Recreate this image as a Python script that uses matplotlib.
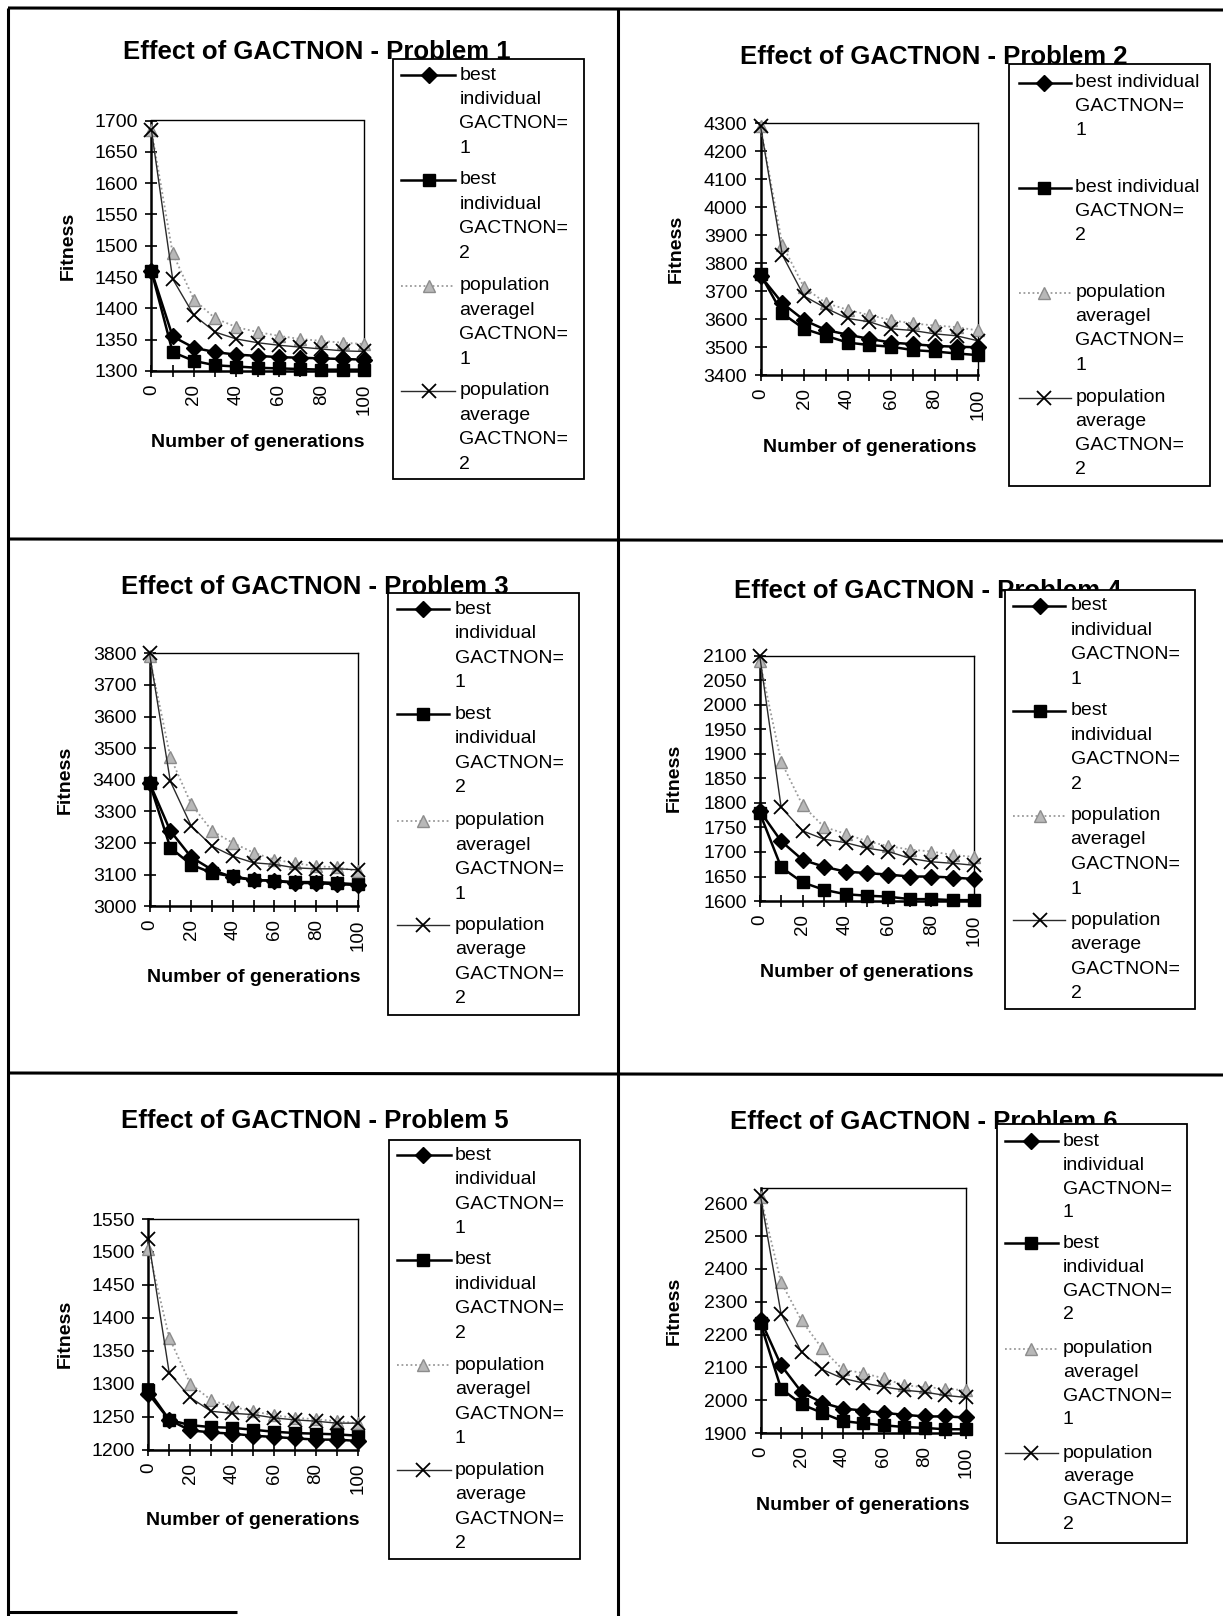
import matplotlib
matplotlib.use("Agg")
import matplotlib.pyplot as plt
from matplotlib.patches import Rectangle

plt.rcParams['font.family'] = ['Liberation Sans', 'DejaVu Sans']

W, H = 1223, 1616

# ---------------------------------------------------------------- data
generations = [0, 10, 20, 30, 40, 50, 60, 70, 80, 90, 100]
x_tick_labels = ['0', '', '20', '', '40', '', '60', '', '80', '', '100']

titles = ['Effect of GACTNON - Problem 1', 'Effect of GACTNON - Problem 2',
          'Effect of GACTNON - Problem 3', 'Effect of GACTNON - Problem 4',
          'Effect of GACTNON - Problem 5', 'Effect of GACTNON - Problem 6']

series_short = ['best\nindividual\nGACTNON=\n1', 'best\nindividual\nGACTNON=\n2',
                'population\naveragel\nGACTNON=\n1', 'population\naverage\nGACTNON=\n2']
series_wide = ['best individual\nGACTNON=\n1', 'best individual\nGACTNON=\n2',
               'population\naveragel\nGACTNON=\n1', 'population\naverage\nGACTNON=\n2']

p1_yticks = [1300, 1350, 1400, 1450, 1500, 1550, 1600, 1650, 1700]
p1_best1 = [1460, 1355, 1337, 1330, 1326, 1324, 1322, 1321, 1320, 1319, 1318]
p1_best2 = [1460, 1330, 1316, 1309, 1307, 1305, 1304, 1303, 1302, 1302, 1302]
p1_pop1 = [1685, 1488, 1414, 1384, 1370, 1362, 1356, 1351, 1348, 1345, 1343]
p1_pop2 = [1685, 1447, 1389, 1362, 1351, 1345, 1341, 1338, 1335, 1332, 1331]

p2_yticks = [3400, 3500, 3600, 3700, 3800, 3900, 4000, 4100, 4200, 4300]
p2_best1 = [3755, 3658, 3597, 3562, 3545, 3530, 3517, 3511, 3505, 3502, 3500]
p2_best2 = [3760, 3621, 3566, 3541, 3517, 3508, 3502, 3490, 3485, 3478, 3472]
p2_pop1 = [4290, 3867, 3714, 3658, 3634, 3615, 3597, 3585, 3578, 3572, 3560]
p2_pop2 = [4290, 3830, 3683, 3640, 3603, 3591, 3566, 3560, 3548, 3541, 3523]

p3_yticks = [3000, 3100, 3200, 3300, 3400, 3500, 3600, 3700, 3800]
p3_best1 = [3390, 3238, 3155, 3115, 3091, 3083, 3080, 3073, 3073, 3069, 3067]
p3_best2 = [3390, 3185, 3131, 3105, 3094, 3083, 3080, 3076, 3076, 3073, 3069]
p3_pop1 = [3790, 3472, 3323, 3238, 3200, 3169, 3147, 3136, 3126, 3123, 3110]
p3_pop2 = [3800, 3395, 3254, 3190, 3158, 3137, 3132, 3121, 3118, 3118, 3115]

p4_yticks = [1600, 1650, 1700, 1750, 1800, 1850, 1900, 1950, 2000, 2050, 2100]
p4_best1 = [1784, 1722, 1684, 1670, 1660, 1657, 1654, 1650, 1650, 1648, 1645]
p4_best2 = [1780, 1669, 1638, 1623, 1614, 1611, 1609, 1604, 1604, 1602, 1602]
p4_pop1 = [2090, 1884, 1795, 1751, 1737, 1722, 1712, 1705, 1701, 1694, 1690]
p4_pop2 = [2100, 1791, 1743, 1726, 1719, 1708, 1701, 1687, 1680, 1677, 1673]

p5_yticks = [1200, 1250, 1300, 1350, 1400, 1450, 1500, 1550]
p5_best1 = [1285, 1245, 1229, 1226, 1224, 1221, 1219, 1217, 1215, 1215, 1213]
p5_best2 = [1290, 1245, 1237, 1234, 1233, 1230, 1227, 1225, 1224, 1223, 1221]
p5_pop1 = [1505, 1370, 1300, 1275, 1265, 1258, 1252, 1248, 1246, 1243, 1240]
p5_pop2 = [1520, 1316, 1279, 1258, 1255, 1253, 1248, 1245, 1243, 1240, 1240]

p6_yticks = [1900, 2000, 2100, 2200, 2300, 2400, 2500, 2600]
p6_best1 = [2245, 2107, 2025, 1993, 1975, 1969, 1962, 1956, 1951, 1951, 1948]
p6_best2 = [2235, 2036, 1988, 1962, 1937, 1930, 1924, 1919, 1916, 1912, 1912]
p6_pop1 = [2620, 2360, 2243, 2158, 2094, 2083, 2067, 2046, 2040, 2036, 2030]
p6_pop2 = [2622, 2264, 2147, 2094, 2067, 2053, 2041, 2031, 2025, 2015, 2009]

# ---------------------------------------------------------------- styles
styles = [
    dict(color='black', lw=1.8, ls='-', marker='D', ms=8, mfc='black', mec='black'),
    dict(color='black', lw=1.8, ls='-', marker='s', ms=9, mfc='black', mec='black'),
    dict(color='#9a9a9a', lw=1.3, ls=(0, (1, 1.5)), marker='^', ms=9,
         mfc='#b8b8b8', mec='#8c8c8c'),
    dict(color='#2a2a2a', lw=1.0, ls='-', marker='x', ms=10, mew=1.3, mec='black'),
]

# panel layout in pixels: axes box, title anchor, label anchors, legend geometry
panels = [
    dict(title=titles[0], names=series_short, yticks=p1_yticks, ylim=(1300, 1700),
         series=[p1_best1, p1_best2, p1_pop1, p1_pop2],
         box=(151.4, 120.5, 363.8, 370.9), title_xy=(123.4, 51.7),
         ylab_x=68, xlab_y=442.5,
         leg=(392.6, 59.2, 584.0, 478.7), hx=(401, 429, 455), tx=459.5,
         rows=[75.0, 179.8, 285.8, 390.8], pitch=24.5),
    dict(title=titles[1], names=series_wide, yticks=p2_yticks, ylim=(3400, 4300),
         series=[p2_best1, p2_best2, p2_pop1, p2_pop2],
         box=(760.5, 123.3, 978.3, 375.3), title_xy=(740.2, 56.8),
         ylab_x=676.5, xlab_y=447.7,
         leg=(1008.7, 63.7, 1210.0, 485.5), hx=(1018.5, 1044, 1071), tx=1075.2,
         rows=[82.6, 187.7, 292.7, 397.7], pitch=24.1),
    dict(title=titles[2], names=series_short, yticks=p3_yticks, ylim=(3000, 3800),
         series=[p3_best1, p3_best2, p3_pop1, p3_pop2],
         box=(149.5, 653.3, 357.8, 906.1), title_xy=(120.6, 587.3),
         ylab_x=65, xlab_y=977.8,
         leg=(388.3, 593.4, 579.3, 1015.0), hx=(397.4, 423, 448.8), tx=454.7,
         rows=[609.3, 714.1, 820.6, 925.4], pitch=24.5),
    dict(title=titles[3], names=series_short, yticks=p4_yticks, ylim=(1600, 2100),
         series=[p4_best1, p4_best2, p4_pop1, p4_pop2],
         box=(759.7, 655.6, 974.3, 901.1), title_xy=(734.3, 590.7),
         ylab_x=674.5, xlab_y=972.7,
         leg=(1004.8, 590.0, 1195.2, 1009.2), hx=(1012.7, 1040, 1065.4), tx=1070.5,
         rows=[605.9, 710.7, 815.5, 920.3], pitch=24.5),
    dict(title=titles[4], names=series_short, yticks=p5_yticks, ylim=(1200, 1550),
         series=[p5_best1, p5_best2, p5_pop1, p5_pop2],
         box=(148.3, 1219.0, 357.8, 1449.5), title_xy=(120.6, 1120.5),
         ylab_x=65.2, xlab_y=1520.9,
         leg=(388.7, 1139.6, 580.0, 1558.5), hx=(396.6, 423, 450.8), tx=454.7,
         rows=[1155.3, 1259.8, 1365.3, 1470.4], pitch=24.4),
    dict(title=titles[5], names=series_short, yticks=p6_yticks, ylim=(1900, 2645),
         series=[p6_best1, p6_best2, p6_pop1, p6_pop2],
         box=(760.5, 1188.4, 965.7, 1433.2), title_xy=(730.4, 1122.2),
         ylab_x=674.5, xlab_y=1505.2,
         leg=(997.0, 1124.0, 1187.4, 1542.5), hx=(1004.8, 1031.4, 1057.6), tx=1062.7,
         rows=[1141.4, 1243.4, 1348.6, 1453.0], pitch=23.8),
]

fig = plt.figure(figsize=(W / 100, H / 100), dpi=100)
fig.patch.set_facecolor('white')

# full-page overlay in pixel units for frames, titles and legends
canvas = fig.add_axes([0, 0, 1, 1])
canvas.set_xlim(0, W)
canvas.set_ylim(H, 0)
canvas.axis('off')
canvas.set_zorder(5)

# page frame and panel dividers
frame_lines = [((8, 1223), (8, 10)), ((8, 8), (8, 1616)), ((618, 618), (8, 1616)),
               ((8, 1223), (539, 541)), ((8, 1223), (1073, 1075)), ((8, 237), (1612, 1612))]
for xs, ys in frame_lines:
    canvas.plot(xs, ys, color='black', lw=2.2, solid_capstyle='butt', zorder=1)

for p in panels:
    l, t, r, b = p['box']
    ax = fig.add_axes([l / W, 1 - b / H, (r - l) / W, (b - t) / H])
    for k, (vals, st) in enumerate(zip(p['series'], styles)):
        ax.plot(generations, vals, clip_on=False, zorder=3 + k, **st)
    ax.set_xlim(0, 100)
    ax.set_ylim(*p['ylim'])
    ax.set_yticks(p['yticks'])
    ax.set_yticklabels([str(v) for v in p['yticks']], fontsize=14)
    ax.set_xticks(generations)
    ax.set_xticklabels(x_tick_labels, rotation=90, fontsize=13.5)
    ax.tick_params(direction='inout', length=9, width=1.2, pad=5, colors='black')
    for side in ('left', 'bottom'):
        ax.spines[side].set_linewidth(1.8)
    for side in ('top', 'right'):
        ax.spines[side].set_linewidth(1.0)
    ax.set_ylabel('Fitness', fontsize=14, fontweight='bold', va='center')
    ax.yaxis.set_label_coords((p['ylab_x'] - l) / (r - l), 0.5)
    ax.set_xlabel('Number of generations', fontsize=14, fontweight='bold', va='center')
    ax.xaxis.set_label_coords(0.5, (b - p['xlab_y']) / (b - t))

    # title (partly covered by the legend box)
    canvas.text(p['title_xy'][0], p['title_xy'][1], p['title'], fontsize=18.5,
                fontweight='bold', ha='left', va='center', zorder=2)

    # legend
    lx0, ly0, lx1, ly1 = p['leg']
    canvas.add_patch(Rectangle((lx0, ly0), lx1 - lx0, ly1 - ly0, facecolor='white',
                               edgecolor='black', lw=1.3, zorder=6))
    hx0, hxm, hx1 = p['hx']
    for name, st, y0 in zip(p['names'], styles, p['rows']):
        canvas.plot([hx0, hxm, hx1], [y0, y0, y0], markevery=[1], zorder=7, **st)
        for i, line in enumerate(name.split('\n')):
            canvas.text(p['tx'], y0 + i * p['pitch'], line, fontsize=14,
                        ha='left', va='center', zorder=7)

fig.savefig('out.png', dpi=100, facecolor='white')
